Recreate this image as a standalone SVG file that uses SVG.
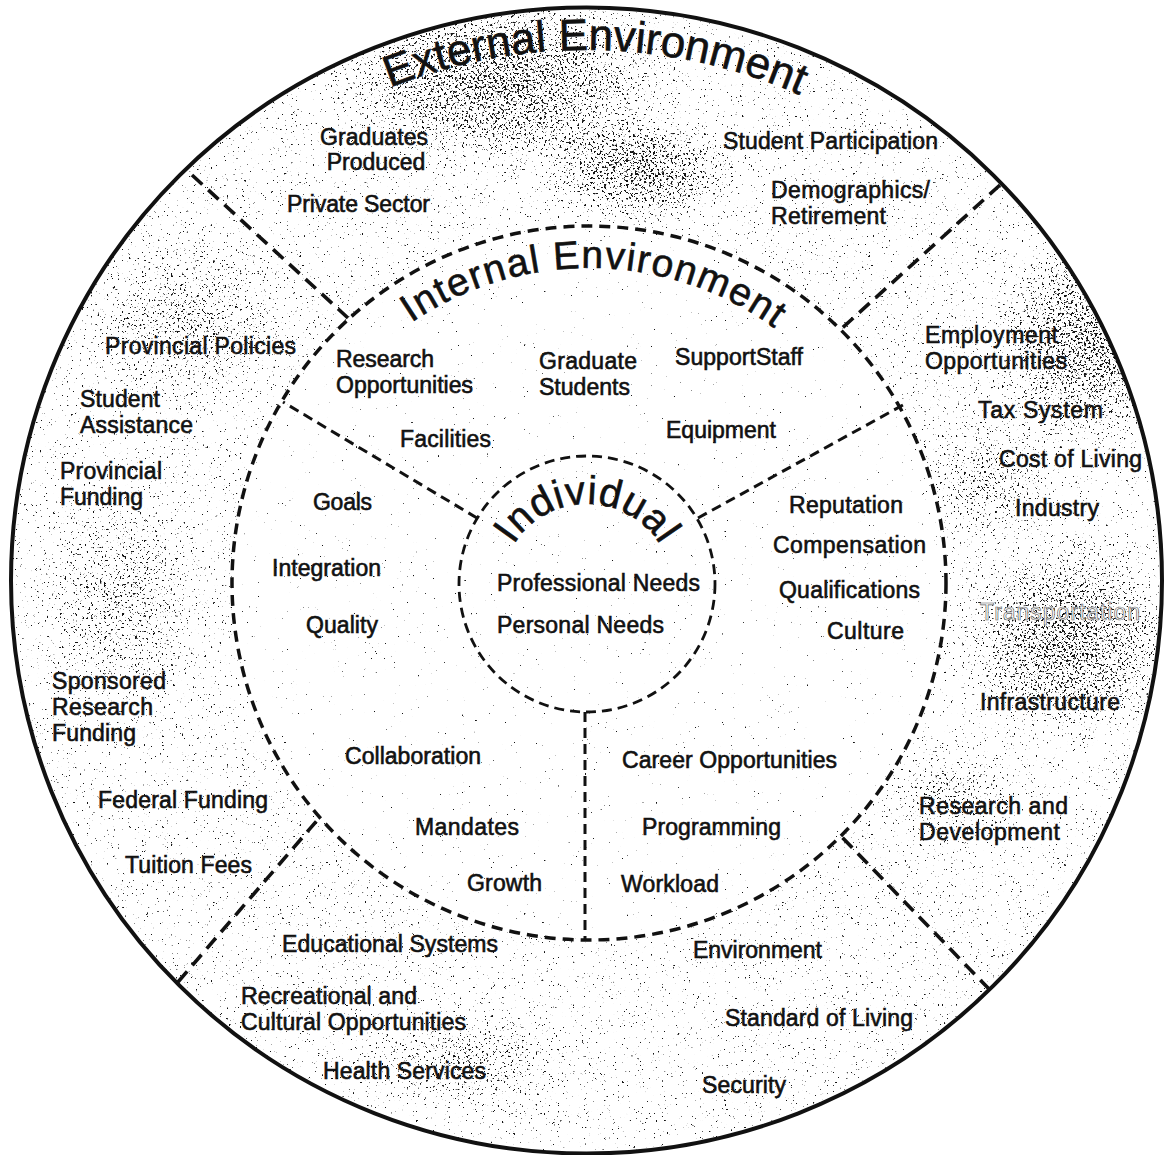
<svg xmlns="http://www.w3.org/2000/svg" width="1167" height="1155" viewBox="0 0 1167 1155">
<style>
.lbl{font-family:"Liberation Sans",Arial,sans-serif;font-size:23px;fill:#111;stroke:#111;stroke-width:0.6;}
.title{font-family:"Liberation Sans",Arial,sans-serif;fill:#111;stroke:#111;stroke-width:0.6;}
.ring{fill:none;stroke:#111;}
.div{fill:none;stroke:#111;stroke-width:3.6;stroke-dasharray:14 8;}
.spoke{fill:none;stroke:#111;stroke-width:3;stroke-dasharray:10 6;}
</style>
<defs>
<filter id="grain" filterUnits="userSpaceOnUse" x="0" y="0" width="1167" height="1155" color-interpolation-filters="sRGB">
<feTurbulence type="fractalNoise" baseFrequency="0.45" numOctaves="3" seed="7" result="n"/>
<feColorMatrix in="n" type="matrix" values="1 0 0 0 0  1 0 0 0 0  1 0 0 0 0  0 0 0 0 1" result="no"/>
<feComposite in="no" in2="SourceGraphic" operator="arithmetic" k1="0" k2="0.5" k3="0.5" k4="0" result="sum"/>
<feColorMatrix in="sum" type="matrix" values="0 0 0 0 0.08  0 0 0 0 0.08  0 0 0 0 0.08  30 0 0 0 -22.8"/>
</filter>
<radialGradient id="hv"><stop offset="0" stop-color="#fff" stop-opacity="0.92"/><stop offset="0.5" stop-color="#fff" stop-opacity="0.6"/><stop offset="1" stop-color="#fff" stop-opacity="0"/></radialGradient>
<radialGradient id="md"><stop offset="0" stop-color="#fff" stop-opacity="0.6"/><stop offset="1" stop-color="#fff" stop-opacity="0"/></radialGradient>
<clipPath id="outerClip"><ellipse cx="586.5" cy="580.5" rx="575.5" ry="573"/></clipPath>
<path id="extArc" d="M 56 580 A 530 530 0 0 1 1116 580"/>
<path id="intArc" d="M 274 583 A 315 315 0 0 1 904 583"/>
<path id="indArc" d="M 501 590 A 86 86 0 0 1 673 590"/>
</defs>
<rect width="1167" height="1155" fill="#fff"/>
<g id="texture" filter="url(#grain)">
<rect width="1167" height="1155" fill="#000"/>
<ellipse cx="586.5" cy="580.5" rx="575.5" ry="573" fill="rgb(204,204,204)"/>
<g clip-path="url(#outerClip)">
<ellipse cx="500" cy="80" rx="190" ry="100" fill="url(#hv)"/>
<ellipse cx="640" cy="170" rx="110" ry="60" fill="url(#hv)"/>
<ellipse cx="1090" cy="340" rx="110" ry="120" fill="url(#hv)"/>
<ellipse cx="1070" cy="640" rx="120" ry="110" fill="url(#hv)"/>
<ellipse cx="990" cy="480" rx="80" ry="80" fill="url(#md)"/>
<ellipse cx="190" cy="320" rx="130" ry="100" fill="url(#md)"/>
<ellipse cx="470" cy="1060" rx="130" ry="60" fill="url(#md)"/>
<ellipse cx="120" cy="600" rx="100" ry="140" fill="url(#md)"/>
<ellipse cx="950" cy="800" rx="80" ry="60" fill="url(#md)"/>
</g>
<circle cx="589" cy="583" r="357" fill="rgb(188,188,188)"/>
</g>

<g id="external-environment">
<ellipse class="ring" cx="586.5" cy="580.5" rx="575.5" ry="573" stroke-width="4"/>
<text class="title" font-size="44"><textPath href="#extArc" startOffset="842" text-anchor="middle">External Environment</textPath></text>
<text class="lbl" x="320" y="145" textLength="108" lengthAdjust="spacing">Graduates</text>
<text class="lbl" x="376" y="170" text-anchor="middle">Produced</text>
<text class="lbl" x="287" y="212" textLength="143" lengthAdjust="spacing">Private Sector</text>
<text class="lbl" x="723" y="149" textLength="215" lengthAdjust="spacing">Student Participation</text>
<text class="lbl" x="771" y="198" textLength="159" lengthAdjust="spacing">Demographics/</text>
<text class="lbl" x="771" y="224" textLength="115" lengthAdjust="spacing">Retirement</text>
<text class="lbl" x="105" y="354" textLength="191" lengthAdjust="spacing">Provincial Policies</text>
<text class="lbl" x="80" y="407" textLength="80" lengthAdjust="spacing">Student</text>
<text class="lbl" x="80" y="433" textLength="113" lengthAdjust="spacing">Assistance</text>
<text class="lbl" x="60" y="479" textLength="102" lengthAdjust="spacing">Provincial</text>
<text class="lbl" x="60" y="505" textLength="83" lengthAdjust="spacing">Funding</text>
<text class="lbl" x="52" y="689" textLength="114" lengthAdjust="spacing">Sponsored</text>
<text class="lbl" x="52" y="715" textLength="101" lengthAdjust="spacing">Research</text>
<text class="lbl" x="52" y="741" textLength="84" lengthAdjust="spacing">Funding</text>
<text class="lbl" x="98" y="808" textLength="170" lengthAdjust="spacing">Federal Funding</text>
<text class="lbl" x="125" y="873" textLength="127" lengthAdjust="spacing">Tuition Fees</text>
<text class="lbl" x="282" y="952" textLength="216" lengthAdjust="spacing">Educational Systems</text>
<text class="lbl" x="241" y="1004" textLength="176" lengthAdjust="spacing">Recreational and</text>
<text class="lbl" x="241" y="1030" textLength="225" lengthAdjust="spacing">Cultural Opportunities</text>
<text class="lbl" x="323" y="1079" textLength="163" lengthAdjust="spacing">Health Services</text>
<text class="lbl" x="693" y="958" textLength="129" lengthAdjust="spacing">Environment</text>
<text class="lbl" x="725" y="1026" textLength="188" lengthAdjust="spacing">Standard of Living</text>
<text class="lbl" x="702" y="1093" textLength="84" lengthAdjust="spacing">Security</text>
<text class="lbl" x="919" y="814" textLength="149" lengthAdjust="spacing">Research and</text>
<text class="lbl" x="919" y="840" textLength="141" lengthAdjust="spacing">Development</text>
<text class="lbl" x="980" y="710" textLength="140" lengthAdjust="spacing">Infrastructure</text>
<text class="lbl" x="980" y="620" textLength="160" lengthAdjust="spacing" style="fill:#fff;stroke:#666;stroke-width:0.7">Transportation</text>
<text class="lbl" x="1015" y="516" textLength="84" lengthAdjust="spacing">Industry</text>
<text class="lbl" x="999" y="467" textLength="143" lengthAdjust="spacing">Cost of Living</text>
<text class="lbl" x="978" y="418" textLength="125" lengthAdjust="spacing">Tax System</text>
<text class="lbl" x="925" y="343" textLength="133" lengthAdjust="spacing">Employment</text>
<text class="lbl" x="925" y="369" textLength="142" lengthAdjust="spacing">Opportunities</text>
</g>

<g id="internal-environment">
<circle class="ring" cx="589" cy="583" r="357" stroke-width="3.5" stroke-dasharray="11 7"/>
<text class="title" font-size="39" letter-spacing="1.4"><textPath href="#intArc" startOffset="500" text-anchor="middle">Internal Environment</textPath></text>
<text class="lbl" x="336" y="367" textLength="98" lengthAdjust="spacing">Research</text>
<text class="lbl" x="336" y="393" textLength="137" lengthAdjust="spacing">Opportunities</text>
<text class="lbl" x="539" y="369" textLength="98" lengthAdjust="spacing">Graduate</text>
<text class="lbl" x="539" y="395" textLength="91" lengthAdjust="spacing">Students</text>
<text class="lbl" x="675" y="365" textLength="128" lengthAdjust="spacing">SupportStaff</text>
<text class="lbl" x="400" y="447" textLength="91" lengthAdjust="spacing">Facilities</text>
<text class="lbl" x="666" y="438" textLength="110" lengthAdjust="spacing">Equipment</text>
<text class="lbl" x="313" y="510" textLength="59" lengthAdjust="spacing">Goals</text>
<text class="lbl" x="272" y="576" textLength="109" lengthAdjust="spacing">Integration</text>
<text class="lbl" x="306" y="633" textLength="72" lengthAdjust="spacing">Quality</text>
<text class="lbl" x="789" y="513" textLength="114" lengthAdjust="spacing">Reputation</text>
<text class="lbl" x="773" y="553" textLength="153" lengthAdjust="spacing">Compensation</text>
<text class="lbl" x="779" y="598" textLength="141" lengthAdjust="spacing">Qualifications</text>
<text class="lbl" x="827" y="639" textLength="77" lengthAdjust="spacing">Culture</text>
<text class="lbl" x="345" y="764" textLength="136" lengthAdjust="spacing">Collaboration</text>
<text class="lbl" x="415" y="835" textLength="104" lengthAdjust="spacing">Mandates</text>
<text class="lbl" x="467" y="891" textLength="75" lengthAdjust="spacing">Growth</text>
<text class="lbl" x="622" y="768" textLength="215" lengthAdjust="spacing">Career Opportunities</text>
<text class="lbl" x="642" y="835" textLength="139" lengthAdjust="spacing">Programming</text>
<text class="lbl" x="621" y="892" textLength="98" lengthAdjust="spacing">Workload</text>
</g>

<g id="individual">
<circle class="ring" cx="587" cy="584" r="128" stroke-width="2.8" stroke-dasharray="10 6"/>
<text class="title" font-size="40" letter-spacing="0.6"><textPath href="#indArc" startOffset="135" text-anchor="middle">Individual</textPath></text>
<text class="lbl" x="497" y="591" textLength="203" lengthAdjust="spacing">Professional Needs</text>
<text class="lbl" x="497" y="633" textLength="167" lengthAdjust="spacing">Personal Needs</text>
</g>

<g id="connectors">
<line class="div" x1="192" y1="175" x2="348" y2="318"/>
<line class="div" x1="1000" y1="185" x2="840" y2="330"/>
<line class="div" x1="178" y1="982" x2="320" y2="817"/>
<line class="div" x1="990" y1="990" x2="838" y2="833"/>
<line class="spoke" x1="477" y1="518" x2="283" y2="402"/>
<line class="spoke" x1="698" y1="518" x2="903" y2="405"/>
<line class="spoke" x1="585" y1="712" x2="585" y2="939"/>
</g>
</svg>
